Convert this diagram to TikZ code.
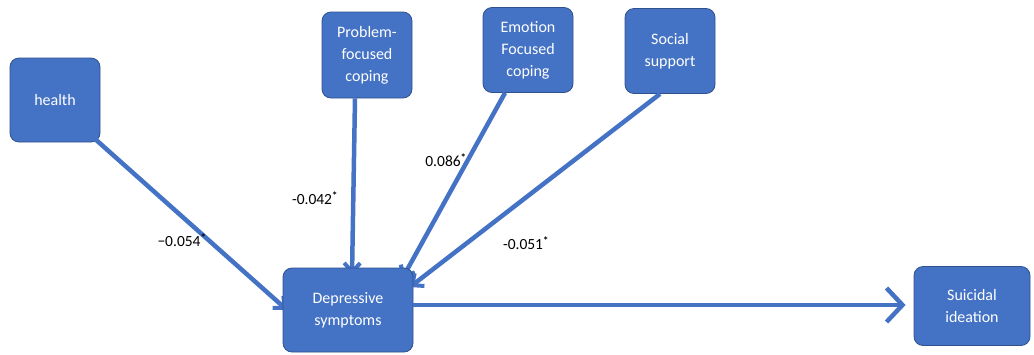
\documentclass[tikz,border=0pt]{standalone}
\usepackage{fontspec}
\setmainfont{Carlito}
\usetikzlibrary{arrows.meta,positioning}
\definecolor{boxblue}{HTML}{4472C4}
\definecolor{boxedge}{HTML}{2F528F}
\newcommand{\sig}{\textsuperscript{\textbf{*}}}

\begin{document}
\begin{tikzpicture}[x=1pt, y=-1pt,
    varbox/.style={draw=boxedge, fill=boxblue, rounded corners=9pt, line width=0.8pt, text=white, align=center, font=\fontsize{16}{22}\selectfont, inner sep=2pt},
    path/.style={draw=boxblue, line width=4.5pt, -{Straight Barb[length=9pt, width=16pt, line width=4pt]}},
    coef/.style={font=\fontsize{15.5}{18}\selectfont, text=black}]
    \useasboundingbox (0,0) rectangle (1034,354);

    % variables
    \node[varbox, minimum width=90pt, minimum height=84pt] (health) at (55,100) {health};
    \node[varbox, minimum width=90pt, minimum height=86pt] (problem) at (367,55) {Problem-\\focused\\coping};
    \node[varbox, minimum width=90pt, minimum height=85pt] (emotion) at (528,50) {Emotion\\Focused\\coping};
    \node[varbox, minimum width=90pt, minimum height=85pt] (social) at (670,51) {Social\\support};
    \node[varbox, minimum width=116pt, minimum height=79pt] (suicidal) at (972,306) {Suicidal\\ideation};

    % paths into depressive symptoms (drawn first, box covers the tips)
    \coordinate (d1) at (287,310);
    \coordinate (d2) at (352,275);
    \coordinate (d3) at (402,279);
    \coordinate (d4) at (410,287);
    \draw[path] (health.south east) ++(-6,-4) -- (d1);
    \draw[path] ([xshift=-12pt]problem.south) -- (d2);
    \draw[path] ([xshift=-23pt]emotion.south) -- (d3);
    \draw[path] ([xshift=-10pt]social.south) -- (d4);

    \node[varbox, minimum width=130pt, minimum height=84pt] (depressive) at (348,310) {Depressive\\symptoms};

    \draw[path, -{Straight Barb[length=16pt, width=34pt, line width=4.5pt]}] ([yshift=5pt]depressive.east) -- ([xshift=-8pt, yshift=1pt]suicidal.west);

    % coefficients
    \node[coef] (c1) at (182,240) {\textminus0.054\sig};
    \node[coef] (c2) at (315,198) {-0.042\sig};
    \node[coef] (c3) at (446,160) {0.086\sig};
    \node[coef] (c4) at (526,243) {-0.051\sig};
\end{tikzpicture}
\end{document}
